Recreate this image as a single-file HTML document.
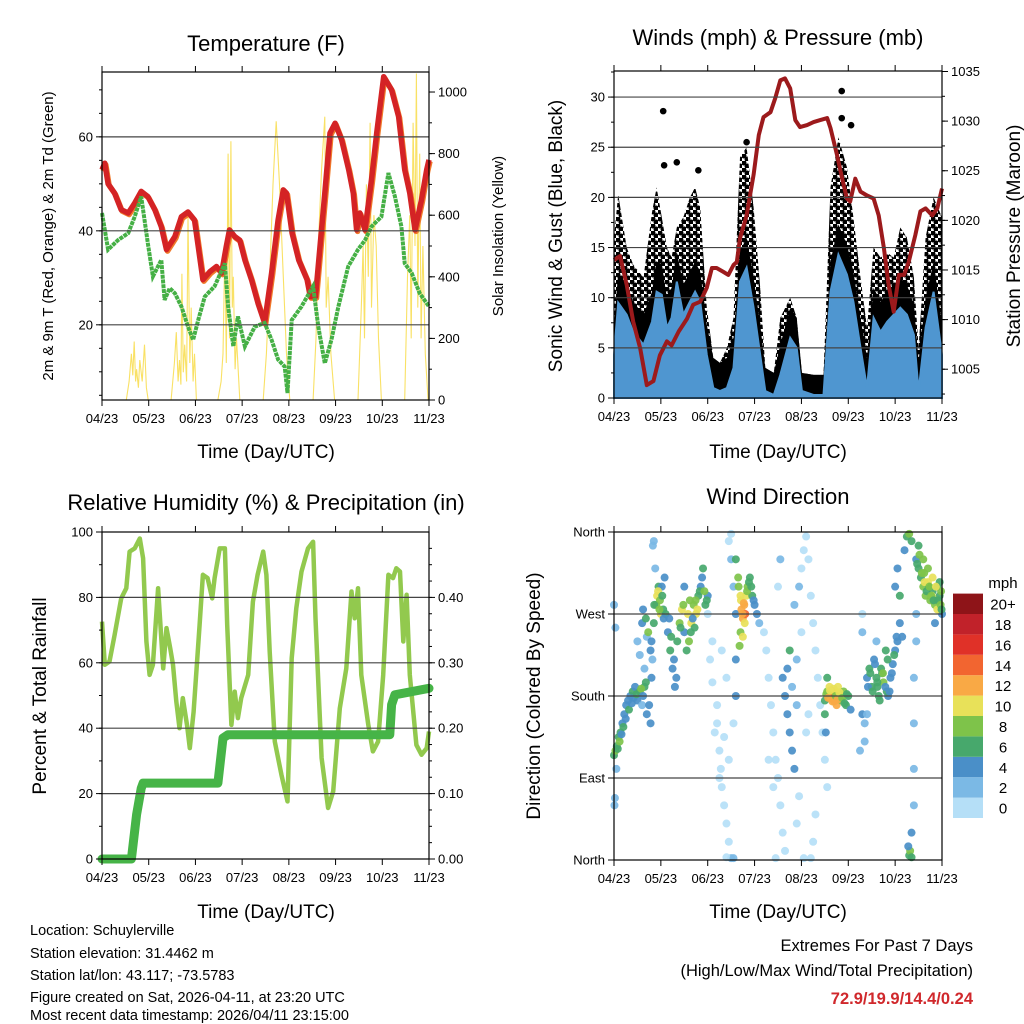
<!DOCTYPE html>
<html><head><meta charset="utf-8"><style>
html,body{margin:0;padding:0;background:#fff;}
svg{display:block;font-family:"Liberation Sans",Arial,sans-serif;}
</style></head><body>
<svg id="chart" width="1024" height="1024" viewBox="0 0 1024 1024">
<defs>
<pattern id="dots" width="7" height="7" patternUnits="userSpaceOnUse">
<circle cx="1.75" cy="1.75" r="2.7" fill="#000"/>
<circle cx="5.25" cy="5.25" r="2.7" fill="#000"/>
</pattern>
</defs>
<g id="marks"></g>
<g id="frames"></g>
<text x="266" y="51" font-size="22" text-anchor="middle">Temperature (F)</text>
<text x="778" y="45" font-size="22" text-anchor="middle">Winds (mph) &amp; Pressure (mb)</text>
<text x="266" y="510" font-size="22" text-anchor="middle">Relative Humidity (%) &amp; Precipitation (in)</text>
<text x="778" y="504" font-size="22" text-anchor="middle">Wind Direction</text>
<text x="266" y="458" font-size="19" text-anchor="middle">Time (Day/UTC)</text>
<text x="778" y="458" font-size="19" text-anchor="middle">Time (Day/UTC)</text>
<text x="266" y="918" font-size="19" text-anchor="middle">Time (Day/UTC)</text>
<text x="778" y="918" font-size="19" text-anchor="middle">Time (Day/UTC)</text>
<text transform="translate(53,236) rotate(-90)" font-size="15" text-anchor="middle">2m &amp; 9m T (Red, Orange) &amp; 2m Td (Green)</text>
<text transform="translate(503,236) rotate(-90)" font-size="15" text-anchor="middle">Solar Insolation (Yellow)</text>
<text transform="translate(562,236) rotate(-90)" font-size="19" text-anchor="middle">Sonic Wind &amp; Gust (Blue, Black)</text>
<text transform="translate(1020,236) rotate(-90)" font-size="19" text-anchor="middle">Station Pressure (Maroon)</text>
<text transform="translate(46,696) rotate(-90)" font-size="19" text-anchor="middle">Percent &amp; Total Rainfall</text>
<text transform="translate(540,696) rotate(-90)" font-size="19" text-anchor="middle">Direction (Colored By Speed)</text>
<g font-size="14.5">
<text x="30" y="935">Location: Schuylerville</text>
<text x="30" y="958">Station elevation: 31.4462 m</text>
<text x="30" y="980">Station lat/lon: 43.117; -73.5783</text>
<text x="30" y="1002">Figure created on Sat, 2026-04-11, at 23:20 UTC</text>
<text x="30" y="1020">Most recent data timestamp: 2026/04/11 23:15:00</text>
</g>
<text x="973" y="951" font-size="16.5" text-anchor="end">Extremes For Past 7 Days</text>
<text x="973" y="976" font-size="16.5" text-anchor="end">(High/Low/Max Wind/Total Precipitation)</text>
<text x="973" y="1004" font-size="16.5" font-weight="bold" fill="#d0282c" text-anchor="end">72.9/19.9/14.4/0.24</text>
<g id="legend"></g>
</svg>
<script>
const xTickLabels=["04/23","05/23","06/23","07/23","08/23","09/23","10/23","11/23"];
// Temperature (month, degF)
const tempMonths=[0,0.06,0.13,0.27,0.41,0.56,0.7,0.84,0.98,1.13,1.27,1.38,1.56,1.7,1.84,1.98,2.06,2.16,2.31,2.45,2.56,2.66,2.73,2.84,2.95,3.06,3.2,3.34,3.48,3.63,3.77,3.88,3.95,4.07,4.21,4.39,4.46,4.57,4.77,4.88,4.99,5.13,5.28,5.38,5.45,5.52,5.63,5.77,5.88,6.03,6.2,6.35,6.48,6.59,6.7,6.84,6.95,7.0];
const tempValues=[53,54.4,50,48,44.5,43.8,45.9,48.4,47.3,44.5,40.9,36,38.8,43,44,42.3,36.7,29.6,31.3,32.4,31,36.7,40.2,38.8,38,33.8,29.6,24.6,20.4,31,42.3,48.7,48,39.5,33.8,29.6,26,26,48,60.8,62.9,59.4,53,48,40.2,43.8,40.2,50.9,60.8,72.8,70,64.3,53,48,40.2,46.6,53,55.1];
const dewMonths=[0,0.13,0.34,0.56,0.7,0.84,0.98,1.09,1.27,1.34,1.45,1.56,1.7,1.84,1.95,2.06,2.2,2.41,2.63,2.7,2.81,2.91,3.06,3.27,3.48,3.63,3.77,3.91,3.97,4.06,4.27,4.52,4.63,4.77,4.91,5.06,5.27,5.48,5.63,5.77,5.98,6.13,6.27,6.41,6.48,6.63,6.8,7.0];
const dewValues=[43.8,36,38,39.5,43,47.3,37.4,30.3,33.8,25.3,27.8,26.7,23.9,19.6,16.8,21,26,28.2,33.1,23.9,15.4,21.8,15.4,19.6,20.4,16.8,12.6,11.1,5.5,21,23.9,28.2,19.6,11.8,16.8,23.9,32.4,36,38,40.9,43,52.3,47.3,40.9,33.1,31,26.7,23.9];
const solarMonths=[0,0.52,0.58,0.63,0.66,0.69,0.72,0.74,0.78,0.81,0.86,0.91,0.95,0.99,1.48,1.55,1.59,1.63,1.66,1.69,1.71,1.74,1.77,1.81,1.84,1.88,1.91,1.95,1.98,2.02,2.48,2.55,2.59,2.63,2.66,2.7,2.73,2.76,2.79,2.81,2.85,2.88,2.95,3.45,3.52,3.59,3.66,3.73,3.8,3.88,3.95,4.02,4.52,4.58,4.63,4.7,4.77,4.8,4.84,4.9,4.98,5.48,5.55,5.59,5.62,5.66,5.7,5.74,5.77,5.82,5.87,5.92,5.98,6.48,6.54,6.59,6.62,6.66,6.7,6.73,6.76,6.8,6.83,6.87,6.92,6.98,7.0];
const solarValues=[0,0,60,150,80,190,60,100,40,130,60,180,40,0,0,120,220,60,130,50,410,90,180,60,600,120,300,60,150,0,0,60,150,500,120,800,200,840,300,400,100,200,0,0,150,400,700,905,700,400,150,0,0,200,500,750,920,300,400,150,0,0,300,500,200,700,400,900,300,600,500,200,0,0,400,600,200,900,500,1060,300,800,200,500,150,0,0];
// Winds (month, mph / mb)
const windMonths=[0,0.09,0.27,0.41,0.63,0.81,0.91,1.02,1.13,1.23,1.34,1.48,1.62,1.73,1.84,1.98,2.12,2.26,2.41,2.55,2.69,2.83,2.98,3.12,3.23,3.41,3.55,3.76,3.9,4.01,4.26,4.47,4.62,4.79,4.97,5.11,5.26,5.4,5.54,5.69,5.83,5.97,6.11,6.25,6.4,6.5,6.65,6.82,7.0];
const windValues=[4.3,9.5,8.3,6.6,5.3,7.6,10.6,10.3,7,8,11.6,8.3,9.6,10.6,9.6,4.3,1,0.7,1,3,11.6,13,9,4.3,0.7,0.3,2.3,6,5,0.7,0.3,0.3,10.6,14.3,12.3,9.6,5,1,8,6.6,7.6,8.3,9,8.3,6.3,0.7,7,10.6,4.3];
const gustValues=[16,20.3,15,13.3,12,18.5,21,18,15,14,17,18,20,21,19,9,4,3.5,5,8,24,25,19,11,3,2.5,8,10,8,2.5,2.3,2.3,21,26,23,18,12,7,15,14,14.5,14,17,16,12,5,16,20,18];
const gustOutlierMonths=[1.05,4.86,4.86,5.06,1.34,1.07,1.8,2.83];
const gustOutlierValues=[28.6,30.6,27.9,27.2,23.5,23.2,22.7,25.5];
const pressMonths=[0,0.13,0.27,0.41,0.56,0.7,0.84,0.98,1.13,1.23,1.38,1.56,1.69,1.84,1.98,2.09,2.19,2.34,2.44,2.55,2.62,2.69,2.83,2.98,3.09,3.19,3.34,3.44,3.55,3.65,3.76,3.87,3.97,4.12,4.26,4.4,4.55,4.62,4.76,4.87,4.97,5.04,5.15,5.26,5.4,5.54,5.65,5.76,5.86,5.97,6.08,6.19,6.29,6.43,6.54,6.65,6.79,6.9,7.0];
const pressValues=[1016.0,1016.4,1013.5,1009.8,1007.1,1003.4,1003.8,1006.4,1007.8,1007.4,1008.8,1010.1,1011.5,1011.8,1013.2,1015.2,1015.2,1014.8,1014.5,1015.5,1015.8,1018.2,1020.5,1024.6,1028.6,1030.4,1030.9,1032.3,1034.1,1034.3,1033.3,1030.1,1029.4,1029.6,1029.9,1030.1,1030.3,1029.3,1026.6,1024.2,1022.2,1021.9,1024.2,1022.9,1022.5,1022.2,1020.5,1017.2,1013.5,1010.8,1014.5,1014.5,1015.8,1018.5,1020.9,1021.2,1020.5,1021.2,1023.2];
// Humidity / precipitation
const rhMonths=[0,0.06,0.16,0.27,0.41,0.52,0.59,0.7,0.81,0.88,0.95,1.02,1.09,1.2,1.31,1.38,1.46,1.52,1.59,1.66,1.73,1.82,1.88,1.96,2.09,2.16,2.26,2.36,2.41,2.52,2.63,2.68,2.77,2.84,2.91,2.98,3.13,3.23,3.33,3.45,3.52,3.59,3.7,3.84,3.97,4.06,4.16,4.27,4.41,4.52,4.57,4.7,4.84,4.95,5.09,5.23,5.34,5.41,5.48,5.55,5.7,5.8,5.91,6.02,6.13,6.23,6.3,6.38,6.45,6.52,6.59,6.73,6.84,6.95,7.0];
const rhValues=[72.6,59.4,60.4,68.5,79.7,82.8,94,95,98,92,66.5,56.3,59.4,82.8,58.3,70.6,64.5,59.4,48.2,40,49.2,41,33.9,45,71.6,86.9,85.9,79.7,85.9,95,95,71.6,41,51.2,43.1,49.2,56.3,78.7,86.9,94,86.9,63.4,35.9,25.8,17.6,61.4,76.7,87.9,95,97,73.6,30.9,15.6,20.7,46.1,58.3,81.8,73.6,82.8,56.3,41,32.9,35.9,56.3,86.9,85.9,88.9,87.9,66.5,80.8,56.3,34.9,31.9,33.9,39];
const precipMonths=[0,0.63,0.74,0.84,0.88,2.48,2.59,2.7,6.16,6.2,6.27,7.0];
const precipValues=[0,0,0.068,0.108,0.116,0.116,0.185,0.19,0.19,0.236,0.251,0.261];
// Wind direction: month, degrees, speed
const dirMonths=[0,0.03,0.06,0.1,0.14,0.18,0.22,0.26,0.3,0.35,0.4,0.45,0.5,0.55,0.6,0.65,0.7,0.78,0.8,0.82,0.05,0.02,0.01,0.03,0,
0.5,0.55,0.6,0.65,0.7,0.78,0.85,0.9,0.92,0.95,0.98,1.0,1.02,1.05,1.08,0.88,0.85,0.83,
1.1,1.15,1.2,1.25,1.3,1.35,1.4,1.45,1.5,1.55,1.6,1.65,1.7,1.75,1.8,1.85,1.9,1.95,2.0,1.72,1.62,1.5,
2.05,2.1,2.15,2.2,2.25,2.28,2.3,2.35,2.4,2.45,2.5,2.5,2.45,2.5,2.55,2.6,2.6,2.6,2.55,2.4,2.3,2.2,2.35,2.45,2.0,2.1,2.25,2.4,2.55,
2.6,2.65,2.7,2.72,2.75,2.78,2.8,2.82,2.85,2.9,2.95,3.0,3.05,3.1,2.7,2.68,2.75,
3.2,3.25,3.3,3.35,3.4,3.45,3.5,3.55,3.6,3.65,3.3,3.4,3.5,3.55,3.6,3.65,3.7,3.75,3.8,3.85,3.7,3.8,3.9,3.9,3.75,3.85,3.95,4.0,4.05,4.1,4.15,4.2,4.25,4.3,4.35,4.4,4.45,4.5,4.55,4.3,4.25,4.2,4.05,3.9,3.95,4.1,4.15,4.0,3.45,
4.5,4.55,4.6,4.62,4.65,4.68,4.7,4.72,4.75,4.78,4.8,4.85,4.9,4.95,5.0,5.05,4.55,4.5,4.52,4.64,4.7,4.76,
5.3,5.35,5.35,5.3,5.3,5.4,5.45,5.5,5.55,5.6,5.65,5.7,5.75,5.8,5.85,5.9,5.95,6.0,6.05,6.1,6.15,5.25,5.4,5.6,5.62,5.72,5.82,
6.0,6.05,6.1,6.2,6.25,6.3,6.35,6.3,6.32,6.35,6.28,6.35,6.4,6.4,6.4,6.4,6.45,6.45,
6.45,6.5,6.55,6.6,6.65,6.7,6.75,6.8,6.85,6.9,6.95,7.0,6.6,6.7,6.8,6.9,6.5,6.85,6.62,6.72,6.78,6.88,6.95,6.98,
0.08,0.12,0.16,0.2,0.25,0.32,0.38,0.42,0.48,0.58,0.62,0.68,0.75,
0.62,0.68,0.73,0.8,0.86,0.94,0.97,1.03,1.06,
1.18,1.22,1.28,1.33,1.42,1.48,1.58,1.64,1.68,1.74,1.78,1.83,1.88,1.93,1.98,
2.66,2.71,2.74,2.77,2.79,2.84,2.88,2.93,2.98,
4.53,4.57,4.61,4.66,4.69,4.73,4.77,4.81,4.87,4.92,4.97,
5.42,5.47,5.52,5.57,5.62,5.67,5.74,5.79,5.84,5.88,5.93,5.98,6.03,
6.47,6.52,6.57,6.63,6.67,6.73,6.77,6.82,6.87,6.92,6.97,6.99];
const dirDegrees=[115,120,125,135,140,150,160,170,175,180,185,190,175,185,170,190,160,150,200,220,100,68,60,255,280,
240,225,260,210,245,230,260,280,290,300,285,270,300,275,310,320,350,345,
270,250,230,210,190,240,260,275,250,230,240,260,280,270,290,300,320,280,290,255,285,300,
220,240,140,150,120,100,80,60,40,20,2,358,350,330,300,270,220,180,150,200,230,170,135,110,270,195,90,3,2,
330,310,290,275,265,280,270,290,300,310,290,280,270,260,250,235,245,
250,230,200,170,140,110,90,60,30,10,110,80,300,330,200,180,160,140,120,100,210,190,170,220,230,280,300,320,340,355,330,290,260,230,200,170,140,110,80,50,20,2,2,40,70,140,160,250,2,
175,185,190,178,182,176,180,185,170,190,180,175,185,170,180,165,200,160,140,186,174,182,
160,150,130,270,250,200,210,190,220,200,180,210,195,230,180,200,215,230,240,260,245,120,160,240,190,205,185,
300,320,290,340,355,358,350,5,10,3,15,30,60,100,150,200,240,270,
330,320,310,300,290,305,285,295,280,300,290,270,330,320,310,275,345,260,315,300,290,285,305,295,
122,130,138,146,155,165,172,178,182,188,180,195,170,
275,265,250,240,280,295,275,290,265,
265,245,220,200,255,280,270,250,265,285,275,295,310,295,285,
300,285,270,282,260,295,305,300,285,
182,178,186,174,188,180,176,184,178,172,182,
190,205,185,215,195,175,205,190,220,185,205,225,245,
325,335,315,305,295,300,290,285,300,285,280,275];
const dirSpeeds=[7,8,7,6,7,5,4,4,5,4,6,5,4,6,3,7,5,4,4,3,2,2,2,2,2,
3,3,4,3,3,4,6,8,10,6,8,10,4,6,4,2,2,2,
6,4,6,4,4,6,8,10,4,6,8,10,8,10,6,4,6,6,4,6,8,4,
0,0,0,0,0,0,0,0,0,0,2,0,0,2,2,4,4,4,0,0,0,0,0,0,0,0,0,0,2,
6,8,10,12,12,12,14,10,8,6,6,4,4,2,8,8,10,
0,0,0,0,0,0,0,0,0,0,0,0,0,2,4,4,4,4,4,4,4,2,2,2,6,2,2,0,0,0,0,0,0,0,0,0,0,0,0,0,0,0,0,0,0,0,0,0,0,
6,8,10,10,12,12,14,12,12,10,10,8,8,6,6,4,6,6,4,12,12,10,
4,2,2,0,2,4,6,6,4,6,6,6,8,6,4,4,4,4,4,4,4,2,2,2,6,6,6,
4,4,6,4,6,8,6,6,8,6,4,4,2,2,2,2,2,2,
4,6,6,8,8,10,8,6,8,6,6,4,8,8,10,10,6,4,8,6,10,8,6,8,
6,8,4,6,4,6,4,4,6,8,4,6,4,
4,6,8,4,6,10,8,6,4,
4,6,4,4,6,8,10,6,4,8,10,6,4,8,6,
8,10,12,12,10,8,6,6,4,
8,12,10,12,10,8,12,10,8,6,6,
4,6,6,4,6,6,8,4,6,4,4,6,4,
6,8,8,10,6,8,8,6,10,6,8,6];
const speedColors=["#b5dff7","#7bb9e5","#4a8fc8","#47a86c","#7ec34a","#e8e159","#f9a945","#f26530","#e03128","#c1222a","#8e1418"];
const legendLabels=["0","2","4","6","8","10","12","14","16","18","20+"];

const NS="http://www.w3.org/2000/svg";
function mk(tag,attrs,parent){const e=document.createElementNS(NS,tag);for(const k in attrs)e.setAttribute(k,attrs[k]);parent.appendChild(e);return e;}
const marks=document.getElementById('marks'),frames=document.getElementById('frames'),legend=document.getElementById('legend');
function xs(p,m){return p.x0+m/7*(p.x1-p.x0);}
function ys(p,v,lo,hi){return p.y1-(v-lo)/(hi-lo)*(p.y1-p.y0);}
const P1={x0:102,x1:429,y0:72,y1:400},P2={x0:614,x1:942,y0:71,y1:398},P3={x0:102,x1:429,y0:532,y1:859},P4={x0:614,x1:942,y0:532,y1:860};
function path(pts){return pts.map((q,i)=>(i?'L':'M')+q[0].toFixed(1)+' '+q[1].toFixed(1)).join('');}
function grid(p,vals,lo,hi,name){vals.forEach(v=>{const y=ys(p,v,lo,hi);const g=mk('line',{x1:p.x0,x2:p.x1,y1:y,y2:y,stroke:'#444','stroke-width':1.2},frames);

});}
function frame(p,name){const r=mk('rect',{x:p.x0,y:p.y0,width:p.x1-p.x0,height:p.y1-p.y0,fill:'none',stroke:'#000','stroke-width':1.2},frames);


xTickLabels.forEach((t,i)=>{const x=xs(p,i);mk('line',{x1:x,x2:x,y1:p.y1,y2:p.y1+6,stroke:'#000'},frames);mk('line',{x1:x,x2:x,y1:p.y0,y2:p.y0-6,stroke:'#000'},frames);
const tx=mk('text',{x:x,y:p.y1+23,'font-size':13,'text-anchor':'middle'},frames);tx.textContent=t;

});}
function yticks(p,vals,lo,hi,labels,side,name,minor){const x=side==='l'?p.x0:p.x1;const d=side==='l'?-1:1;
if(minor){for(let v=minor[0];v<=hi;v+=minor[1]){if(v<lo)continue;const y=ys(p,v,lo,hi);mk('line',{x1:x,x2:x+d*3,y1:y,y2:y,stroke:'#000'},frames);}}
vals.forEach((v,i)=>{const y=ys(p,v,lo,hi);mk('line',{x1:x,x2:x+d*6,y1:y,y2:y,stroke:'#000'},frames);
const t=mk('text',{x:x+d*9,y:y+4.5,'font-size':13,'text-anchor':side==='l'?'end':'start'},frames);t.textContent=labels[i];

});}

// Panel 1
const T0=4,T1=73.8,S0=0,S1=1065;
grid(P1,[20,40,60],T0,T1,'temperature');
const sol=mk('path',{d:path(solarMonths.map((m,i)=>[xs(P1,m),ys(P1,solarValues[i],S0,S1)])),fill:'none',stroke:'#f8dc4a','stroke-width':1.1,opacity:0.85},marks);


const tPts=tempValues.map((v,i)=>[xs(P1,tempMonths[i]),ys(P1,v,T0,T1)]);
const org=mk('path',{d:path(tPts.map(q=>[q[0]+1,q[1]+1.5])),fill:'none',stroke:'#f07a2a','stroke-width':5.5,'stroke-linejoin':'round'},marks);


const red=mk('path',{d:path(tPts),fill:'none',stroke:'#d42325','stroke-width':5.5,'stroke-linejoin':'round'},marks);


const dew=mk('path',{d:path(dewMonths.map((m,i)=>[xs(P1,m),ys(P1,dewValues[i],T0,T1)])),fill:'none',stroke:'#45b045','stroke-width':4,'stroke-dasharray':'4 0.8'},marks);


frame(P1,'temperature');
yticks(P1,[20,40,60],T0,T1,['20','40','60'],'l','temperature-y',[5,5]);
yticks(P1,[0,200,400,600,800,1000],S0,S1,['0','200','400','600','800','1000'],'r','solar-y',[0,100]);

// Panel 2
const W0=0,W1=32.6,R0=1002.1,R1=1035.05;
grid(P2,[5,10,15,20,25,30],W0,W1,'winds');
const gPts=windMonths.map((m,i)=>[xs(P2,m),ys(P2,gustValues[i],W0,W1)]);
const gust=mk('path',{d:path([[xs(P2,0),P2.y1]].concat(gPts,[[xs(P2,7),P2.y1]]))+'Z',fill:'url(#dots)',stroke:'none'},marks);


const gustLower=mk('path',{d:path([[xs(P2,0),P2.y1]].concat(windMonths.map((m,i)=>[xs(P2,m),ys(P2,Math.min(gustValues[i],windValues[i]+3),W0,W1)]),[[xs(P2,7),P2.y1]]))+'Z',fill:'#000'},marks);


gustOutlierMonths.forEach((m,i)=>{const c=mk('circle',{cx:xs(P2,m),cy:ys(P2,gustOutlierValues[i],W0,W1),r:3.3,fill:'#000'},marks);

});
const wPts=windMonths.map((m,i)=>[xs(P2,m),ys(P2,windValues[i],W0,W1)]);
const wind=mk('path',{d:path([[xs(P2,0),P2.y1]].concat(wPts,[[xs(P2,7),P2.y1]]))+'Z',fill:'#4f96d0',stroke:'#4f96d0','stroke-width':2},marks);


const pr=mk('path',{d:path(pressMonths.map((m,i)=>[xs(P2,m),ys(P2,pressValues[i],R0,R1)])),fill:'none',stroke:'#9c1a1c','stroke-width':4,'stroke-linejoin':'round'},marks);


frame(P2,'winds');
yticks(P2,[0,5,10,15,20,25,30],W0,W1,['0','5','10','15','20','25','30'],'l','wind-y',[0,2.5]);
yticks(P2,[1005,1010,1015,1020,1025,1030,1035],R0,R1,['1005','1010','1015','1020','1025','1030','1035'],'r','pressure-y',[1002.5,2.5]);

// Panel 3
grid(P3,[20,40,60,80],0,100,'humidity');
const rh=mk('path',{d:path(rhMonths.map((m,i)=>[xs(P3,m),ys(P3,rhValues[i],0,100)])),fill:'none',stroke:'#92c94e','stroke-width':4.5,'stroke-linejoin':'round'},marks);


const pc=mk('path',{d:path(precipMonths.map((m,i)=>[xs(P3,m),ys(P3,precipValues[i],0,0.5)])),fill:'none',stroke:'#46b447','stroke-width':9,'stroke-linejoin':'round','stroke-linecap':'round'},marks);


frame(P3,'humidity');
yticks(P3,[0,20,40,60,80,100],0,100,['0','20','40','60','80','100'],'l','humidity-y',[0,10]);
yticks(P3,[0,0.1,0.2,0.3,0.4],0,0.5,['0.00','0.10','0.20','0.30','0.40'],'r','precip-y',[0,0.025]);

// Panel 4
grid(P4,[90,180,270],0,360,'direction');
dirMonths.forEach((m,i)=>{const s=dirSpeeds[i];const idx=Math.min(10,Math.floor(s/2));
const c=mk('circle',{cx:xs(P4,m),cy:ys(P4,dirDegrees[i],0,360),r:4,fill:speedColors[idx],opacity:0.92},marks);

});
frame(P4,'direction');
yticks(P4,[0,90,180,270,360],0,360,['North','East','South','West','North'],'l','direction-y',null);
speedColors.forEach((col,i)=>{const y=818-(i+1)*20.4;const r=mk('rect',{x:953,y:y,width:30,height:20.4,fill:col},legend);


const t=mk('text',{x:1003,y:y+16,'font-size':15,'text-anchor':'middle'},legend);t.textContent=legendLabels[i];

});
const lt=mk('text',{x:1003,y:588,'font-size':15,'text-anchor':'middle'},legend);lt.textContent='mph';


</script>
</body></html>
